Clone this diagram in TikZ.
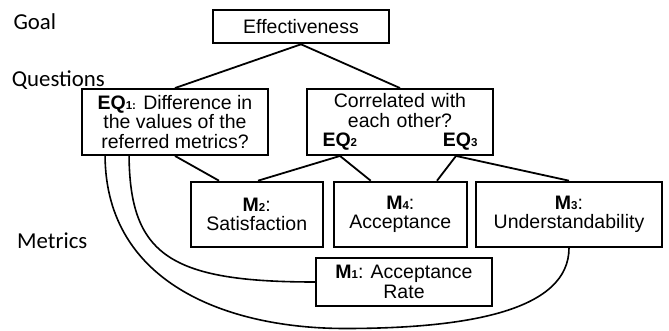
\documentclass[tikz,border=0pt]{standalone}
\usepackage{fontspec}
\newfontfamily\boxfont{Liberation Sans}
\newfontfamily\lblfont{Carlito}
\newcommand{\subdig}[1]{{\fontsize{11.5}{11.5}\selectfont #1}}
\begin{document}
\begin{tikzpicture}[x=1pt,y=-1pt,
  box/.style={draw,line width=1.9pt,inner sep=0pt,align=center,
    font=\boxfont\fontsize{19.5}{19.5}\selectfont},
  lbl/.style={anchor=base west,inner sep=0pt,font=\lblfont\fontsize{22.8}{26}\selectfont},
  conn/.style={line width=1.8pt},
  arcline/.style={line width=1.6pt}]
\useasboundingbox (0,0) rectangle (669,331);

\node[lbl] (goal) at (13.3,29.3) {Goal};
\node[lbl] (questions) at (11.7,86.7) {Questions};
\node[lbl] (metrics) at (17,248.3) {Metrics};

\node[box,minimum width=176,minimum height=33.3] (eff) at (301,26.7) {Effectiveness};
\node[box,minimum width=186,minimum height=66] (eq1) at (175,122)
  {\textbf{EQ}\subdig{\textbf{1:}} Difference in\\the values of the\\referred metrics?};
\node[box,minimum width=186,minimum height=66,text width=155] (eq23) at (400,122)
  {Correlated with\\each other?\\\textbf{EQ}\subdig{\textbf{2}}\hfill\textbf{EQ}\subdig{\textbf{3}}};

\node[box,minimum width=132,minimum height=65.3] (m2) at (256.7,214.3)
  {\textbf{M}\subdig{\textbf{2}}:\\Satisfaction};
\node[box,minimum width=132.7,minimum height=65.3] (m4) at (400.3,214.3)
  {\textbf{M}\subdig{\textbf{4}}:\\Acceptance};
\node[box,minimum width=186.3,minimum height=65.3] (m3) at (569,214.3)
  {\textbf{M}\subdig{\textbf{3}}:\\Understandability};
\node[box,minimum width=176,minimum height=48.3] (m1) at (404,282)
  {\textbf{M}\subdig{\textbf{1}}: Acceptance\\Rate};

\coordinate (eq2) at ([xshift=-60]eq23.south);
\coordinate (eq3) at ([xshift=56]eq23.south);

\draw[conn] (eff.south) -- (eq1.north);
\draw[conn] (eff.south) -- (eq23.north);
\draw[conn] (eq1.south) -- ([xshift=-37.7]m2.north);
\draw[conn] (eq2) -- ([xshift=1.3]m2.north);
\draw[conn] (eq2) -- ([xshift=-29.6]m4.north);
\draw[conn] (eq3) -- ([xshift=36.7]m4.north);
\draw[conn] (eq3) -- (m3.north);

\draw[arcline] ([xshift=48]eq1.south west) .. controls (130,255) and (170,282) .. (m1.west);
\draw[arcline] ([xshift=24]eq1.south west) .. controls (106,285) and (230,328.5) .. (345,328.5)
  .. controls (470,328.5) and (569,310) .. (m3.south);
\end{tikzpicture}
\end{document}
